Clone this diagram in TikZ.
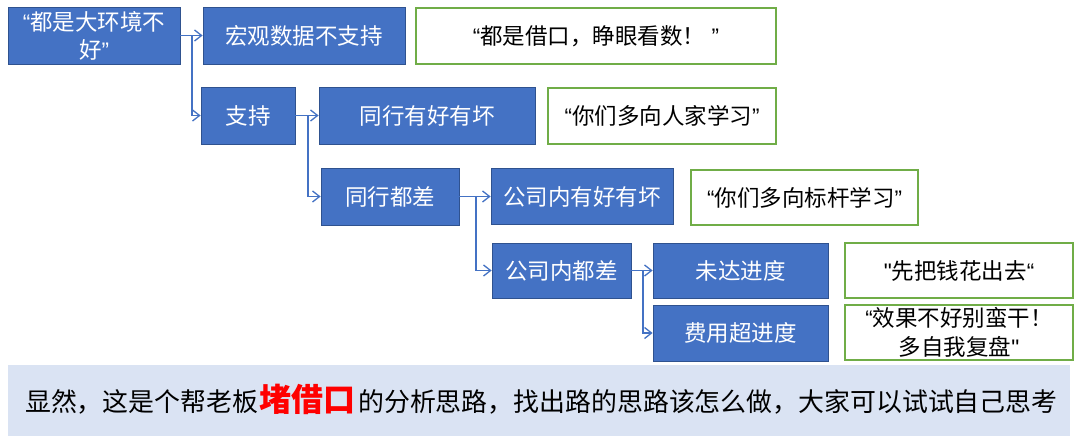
\documentclass[tikz,border=0pt]{standalone}
\usepackage{fontspec}
\setmainfont{Noto Sans CJK SC}
\newfontfamily\lat{Liberation Sans}
\usetikzlibrary{arrows.meta}
\definecolor{bfill}{HTML}{4472C4}
\definecolor{bdraw}{HTML}{2F528F}
\definecolor{gdraw}{HTML}{70AD47}
\definecolor{bandc}{HTML}{DAE3F3}
\begin{document}
\begin{tikzpicture}[x=1pt,y=-1pt,
 bluebox/.style={draw=bdraw, fill=bfill, line width=0.8pt, text=white, inner sep=0pt, font=\fontsize{22.5}{28}\selectfont, align=center},
 greenbox/.style={draw=gdraw, fill=white, line width=1.2pt, text=black, inner sep=0pt, font=\fontsize{22.5}{28.5}\selectfont, align=center},
 conn/.style={draw=bfill, line width=1.3pt, -{Straight Barb[length=7pt,width=11pt]}}]
\useasboundingbox (0,0) rectangle (1080,441);
\fill[white] (0,0) rectangle (1080,441);

% blue boxes
\node[bluebox, minimum width=172pt, minimum height=57pt] (a) at (94,35.5) {{\lat “}都是大环境不\\好{\lat ”}};
\node[bluebox, minimum width=202pt, minimum height=57pt] (b) at (304,35.5) {宏观数据不支持};
\node[bluebox, minimum width=94pt, minimum height=57pt] (d) at (248,115.5) {支持};
\node[bluebox, minimum width=216pt, minimum height=57pt] (e) at (427,115.5) {同行有好有坏};
\node[bluebox, minimum width=138pt, minimum height=57pt] (f) at (390,196.5) {同行都差};
\node[bluebox, minimum width=182pt, minimum height=56pt] (g) at (582,196.5) {公司内有好有坏};
\node[bluebox, minimum width=139pt, minimum height=55pt] (h) at (561.5,270.5) {公司内都差};
\node[bluebox, minimum width=175pt, minimum height=55pt] (i) at (740.5,270.5) {未达进度};
\node[bluebox, minimum width=175pt, minimum height=56pt] (j) at (740.5,333) {费用超进度};

% green boxes
\node[greenbox, minimum width=360pt, minimum height=56pt] (c1) at (596,36) {{\lat “}都是借口，睁眼看数！{\lat\ ”}};
\node[greenbox, minimum width=228pt, minimum height=56pt] (c2) at (662,116) {{\lat “}你们多向人家学习{\lat ”}};
\node[greenbox, minimum width=227pt, minimum height=55pt] (c3) at (804.5,197.5) {{\lat “}你们多向标杆学习{\lat ”}};
\node[greenbox, minimum width=228pt, minimum height=55pt] (c4) at (959,270.5) {{\lat "}先把钱花出去{\lat “}};
\node[greenbox, minimum width=228pt, minimum height=55pt] (c5) at (959,332.5) {{\lat “}效果不好别蛮干！\\ 多自我复盘{\lat "}};

% junctions
\coordinate (ja) at (192,35.5);
\coordinate (jd) at (308,115.5);
\coordinate (jf) at (476,196.5);
\coordinate (jh) at (643,270.5);

% connectors
\draw[conn] (a.east) -- (b.west);
\draw[conn] (ja) |- (d.west);
\draw[conn] (d.east) -- (e.west);
\draw[conn] (jd) |- (f.west);
\draw[conn] (f.east) -- (g.west);
\draw[conn] (jf) |- (h.west);
\draw[conn] (h.east) -- (i.west);
\draw[conn] (jh) |- (j.west);

% bottom band
\node[fill=bandc, minimum width=1062pt, minimum height=71pt, inner sep=0pt] (band) at (539,400.5) {};
\node[anchor=base west, inner sep=0pt, font=\fontsize{25.9}{30}\selectfont, text=black] (note) at (25,411)
 {显然，这是个帮老板{\fontsize{32}{36}\selectfont\bfseries\color{red}\kern1pt 堵借口\kern3pt}的分析思路，找出路的思路该怎么做，大家可以试试自己思考};
\end{tikzpicture}
\end{document}
